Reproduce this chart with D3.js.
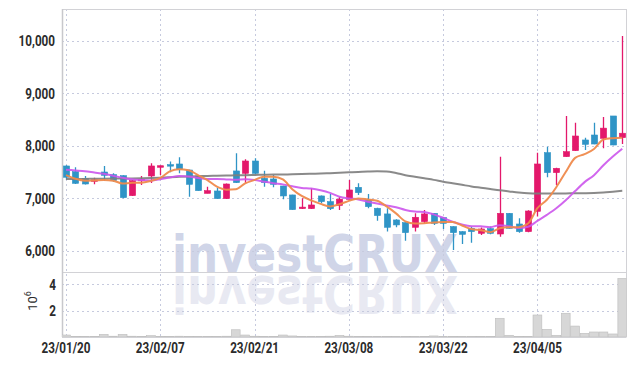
<!DOCTYPE html>
<html>
<head>
<meta charset="utf-8">
<script src="https://cdn.jsdelivr.net/npm/d3@7"></script>
<style>
html, body { margin: 0; padding: 0; background: #fff; }
svg { display: block; }
text { font-family: Roboto, "DejaVu Sans", sans-serif; }
</style>
</head>
<body>
<svg id="chart" width="635" height="366"></svg>
<script>
const dates = [
    '23/01/20', '23/01/25', '23/01/26', '23/01/27', '23/01/30', '23/01/31', '23/02/01', '23/02/02', '23/02/03', '23/02/06',
    '23/02/07', '23/02/08', '23/02/09', '23/02/10', '23/02/13', '23/02/14', '23/02/15', '23/02/16', '23/02/17', '23/02/20',
    '23/02/21', '23/02/22', '23/02/23', '23/02/24', '23/02/27', '23/02/28', '23/03/02', '23/03/03', '23/03/06', '23/03/07',
    '23/03/08', '23/03/09', '23/03/10', '23/03/13', '23/03/14', '23/03/15', '23/03/16', '23/03/17', '23/03/20', '23/03/21',
    '23/03/22', '23/03/23', '23/03/24', '23/03/27', '23/03/28', '23/03/29', '23/03/30', '23/03/31', '23/04/03', '23/04/04',
    '23/04/05', '23/04/06', '23/04/07', '23/04/10', '23/04/11', '23/04/12', '23/04/13', '23/04/14', '23/04/17', '23/04/18'
];
const opens = [
    7615, 7507, 7380, 7330, 7500, 7450, 7430, 7049, 7335, 7424,
    7590, 7640, 7653, 7538, 7424, 7093, 7138, 6992, 7520, 7475,
    7710, 7380, 7367, 7233, 7062, 6801, 6801, 7043, 6935, 6862,
    6979, 7208, 6967, 6808, 6700, 6585, 6534, 6445, 6553, 6712,
    6630, 6458, 6362, 6426, 6330, 6420, 6317, 6712, 6508, 6362,
    6750, 7869, 7488, 7793, 7907, 8111, 8206, 8143, 8569, 8155
];
const highs = [
    7630, 7590, 7424, 7392, 7615, 7475, 7440, 7345, 7424, 7666,
    7625, 7700, 7780, 7545, 7430, 7220, 7195, 7280, 7857, 7742,
    7761, 7526, 7443, 7240, 7065, 6998, 7189, 7050, 7081, 7030,
    7348, 7285, 7081, 6820, 6808, 6600, 6540, 6712, 6776, 6720,
    6640, 6465, 6370, 6460, 6440, 6460, 7793, 6720, 6616, 6770,
    7869, 7984, 7580, 8569, 8442, 8155, 8442, 8550, 8570, 10095
];
const lows = [
    7350, 7270, 7260, 7265, 7335, 7316, 7000, 7040, 7252, 7290,
    7443, 7494, 7475, 7030, 7140, 7093, 6990, 6985, 7290, 7297,
    7460, 7220, 7208, 6980, 6780, 6795, 6795, 6903, 6775, 6776,
    6967, 7062, 6808, 6572, 6363, 6445, 6190, 6363, 6521, 6490,
    6413, 6013, 6127, 6152, 6300, 6310, 6266, 6420, 6343, 6350,
    6650, 7399, 7252, 7790, 7900, 7920, 8030, 7955, 8010, 8035
];
const closes = [
    7400, 7284, 7271, 7350, 7437, 7335, 7011, 7335, 7360, 7615,
    7620, 7625, 7551, 7265, 7144, 7144, 6992, 7271, 7297, 7710,
    7475, 7297, 7265, 7043, 6782, 6830, 6871, 6935, 6801, 6982,
    7157, 7106, 6839, 6668, 6445, 6490, 6343, 6636, 6700, 6521,
    6521, 6343, 6311, 6362, 6413, 6330, 6712, 6425, 6362, 6756,
    7653, 7488, 7570, 7888, 8187, 8028, 8034, 8337, 8015, 8240
];
// volume in millions of shares
const volumes = [
    0.15, 0.05, 0.04, 0.04, 0.20, 0.06, 0.20, 0.06, 0.05, 0.10,
    0.05, 0.04, 0.06, 0.05, 0.05, 0.04, 0.04, 0.06, 0.55, 0.15,
    0.06, 0.04, 0.05, 0.15, 0.08, 0.04, 0.05, 0.04, 0.06, 0.12,
    0.06, 0.04, 0.04, 0.05, 0.05, 0.04, 0.05, 0.03, 0.04, 0.08,
    0.03, 0.04, 0.03, 0.03, 0.04, 0.03, 1.42, 0.13, 0.05, 0.05,
    1.67, 0.58, 0.13, 1.80, 0.83, 0.28, 0.38, 0.38, 0.23, 4.44
];
const ma5 = [
    7440, 7370, 7335, 7340, 7348, 7335, 7281, 7294, 7296, 7331,
    7388, 7511, 7554, 7535, 7441, 7346, 7219, 7163, 7170, 7283,
    7349, 7410, 7409, 7358, 7172, 7043, 6958, 6892, 6844, 6884,
    6949, 6996, 6976, 6950, 6843, 6710, 6557, 6516, 6523, 6538,
    6544, 6544, 6479, 6412, 6390, 6352, 6426, 6448, 6448, 6517,
    6810, 6970, 7210, 7500, 7770, 7840, 7940, 8120, 8145, 8155
];
const ma10 = [
    7545, 7530, 7515, 7490, 7465, 7430, 7390, 7360, 7345, 7340,
    7362, 7396, 7424, 7415, 7386, 7367, 7365, 7359, 7352, 7362,
    7347, 7315, 7286, 7264, 7228, 7196, 7184, 7151, 7101, 7028,
    6996, 6977, 6934, 6897, 6863, 6829, 6776, 6746, 6736, 6691,
    6627, 6551, 6498, 6467, 6464, 6448, 6485, 6464, 6430, 6454,
    6567, 6681, 6807, 6960, 7137, 7307, 7439, 7630, 7796, 7944
];
const maLong = [
    7365, 7366, 7368, 7370, 7372, 7374, 7376, 7378, 7380, 7385,
    7392, 7400, 7408, 7415, 7420, 7424, 7428, 7432, 7436, 7440,
    7444, 7447, 7450, 7453, 7456, 7460, 7465, 7470, 7478, 7486,
    7494, 7502, 7508, 7512, 7510, 7480, 7440, 7410, 7380, 7350,
    7315, 7285, 7255, 7225, 7200, 7175, 7150, 7130, 7110, 7095,
    7090, 7090, 7090, 7092, 7094, 7096, 7100, 7110, 7125, 7140
];
const priceTicks = [6000, 7000, 8000, 9000, 10000];
const volumeTicks = [2, 4];
const dateTicks = ['23/01/20', '23/02/07', '23/02/21', '23/03/08', '23/03/22', '23/04/05'];

const svg = d3.select('#chart');
const plotLeft = 62, plotRight = 626.5, plotTop = 9, split = 272, plotBottom = 337;

const x = d3.scaleBand().domain(dates).range([61.3, 627]).paddingInner(0).paddingOuter(0);
const cx = (d) => x(d) + x.bandwidth() / 2;
const y = d3.scaleLinear().domain([5592, 10610]).range([split, plotTop]);
const yv = d3.scaleLinear().domain([0, 4.93]).range([plotBottom, split]);

const defs = svg.append('defs');
defs.append('clipPath').attr('id', 'clip-price')
    .append('rect').attr('x', plotLeft).attr('y', plotTop).attr('width', plotRight - plotLeft).attr('height', split - plotTop);
defs.append('clipPath').attr('id', 'clip-vol')
    .append('rect').attr('x', plotLeft).attr('y', split).attr('width', plotRight - plotLeft).attr('height', plotBottom - split);

// watermark and its reflection
const wmFont = (sel) => sel
    .attr('textLength', 286).attr('lengthAdjust', 'spacingAndGlyphs')
    .style('font-family', '"DejaVu Sans", sans-serif')
    .style('font-weight', 'bold').style('font-size', '51px');
const wm = svg.append('g');
wm.append('text')
    .attr('x', 172).attr('y', 272)
    .call(wmFont)
    .attr('fill', '#d0d5e8')
    .text('investCRUX');
wm.append('text')
    .attr('x', 172).attr('y', -276)
    .attr('transform', 'scale(1,-1)')
    .call(wmFont)
    .attr('fill', '#e8e9f2')
    .text('investCRUX');

// grid
const grid = svg.append('g')
    .attr('stroke', '#c6cade').attr('stroke-width', 1).attr('stroke-dasharray', '2,3');
grid.selectAll('.hp').data(priceTicks).join('line')
    .attr('class', 'hp')
    .attr('x1', plotLeft).attr('x2', plotRight)
    .attr('y1', (d) => Math.round(y(d)) + 0.5).attr('y2', (d) => Math.round(y(d)) + 0.5);
grid.selectAll('.hv').data(volumeTicks).join('line')
    .attr('class', 'hv')
    .attr('x1', plotLeft).attr('x2', plotRight)
    .attr('y1', (d) => Math.round(yv(d)) + 0.5).attr('y2', (d) => Math.round(yv(d)) + 0.5);
grid.selectAll('.vx').data(dateTicks).join('line')
    .attr('class', 'vx')
    .attr('x1', (d) => Math.round(cx(d)) + 0.5).attr('x2', (d) => Math.round(cx(d)) + 0.5)
    .attr('y1', plotTop).attr('y2', plotBottom);

// frame
const frame = svg.append('g').attr('stroke', '#d2d2d6').attr('fill', 'none');
frame.append('line').attr('x1', plotLeft).attr('x2', plotRight).attr('y1', plotTop + 0.5).attr('y2', plotTop + 0.5);
frame.append('line').attr('x1', plotRight).attr('x2', plotRight).attr('y1', plotTop).attr('y2', plotBottom);
frame.append('line').attr('x1', plotLeft).attr('x2', plotRight).attr('y1', split + 0.5).attr('y2', split + 0.5);
frame.append('line').attr('x1', plotLeft).attr('x2', plotRight).attr('y1', plotBottom + 0.5).attr('y2', plotBottom + 0.5);
frame.append('line').attr('x1', plotLeft + 0.5).attr('x2', plotLeft + 0.5).attr('y1', plotTop).attr('y2', plotBottom)
    .attr('stroke', '#c8c8cc').attr('stroke-width', 1.5);

// volume bars
svg.append('g').attr('clip-path', 'url(#clip-vol)')
    .selectAll('rect').data(dates).join('rect')
    .attr('x', (d) => x(d) + 0.3)
    .attr('width', x.bandwidth() - 0.6)
    .attr('y', (d, i) => yv(volumes[i]))
    .attr('height', (d, i) => plotBottom - yv(volumes[i]))
    .attr('fill', '#d7d7d7').attr('stroke', '#bdbdbd').attr('stroke-width', 0.6);

// candles
const upColor = '#e3186b', downColor = '#2f94c6';
const candles = svg.append('g').attr('clip-path', 'url(#clip-price)');
const bodyW = 6.2;
const cg = candles.selectAll('g').data(dates).join('g')
    .attr('fill', (d, i) => closes[i] >= opens[i] ? upColor : downColor)
    .attr('stroke', (d, i) => closes[i] >= opens[i] ? upColor : downColor);
cg.append('line')
    .attr('x1', (d) => Math.round(cx(d)) + 0.5).attr('x2', (d) => Math.round(cx(d)) + 0.5)
    .attr('y1', (d, i) => y(highs[i])).attr('y2', (d, i) => y(lows[i]))
    .attr('stroke-width', 1.3);
cg.append('rect')
    .attr('x', (d) => Math.round(cx(d)) + 0.5 - bodyW / 2)
    .attr('width', bodyW)
    .attr('y', (d, i) => y(Math.max(opens[i], closes[i])))
    .attr('height', (d, i) => Math.max(1.5, Math.abs(y(opens[i]) - y(closes[i]))))
    .attr('stroke-width', 0.6);

// moving averages
const line = (vals) => d3.line()
    .x((d, i) => cx(dates[i]))
    .y((d) => y(d))
    .curve(d3.curveMonotoneX)(vals);
const maGroup = svg.append('g').attr('clip-path', 'url(#clip-price)').attr('fill', 'none');
maGroup.append('path').attr('d', line(maLong)).attr('stroke', '#7d7d7d').attr('stroke-width', 2).attr('opacity', 0.9);
maGroup.append('path').attr('d', line(ma10)).attr('stroke', '#cc55ec').attr('stroke-width', 2).attr('opacity', 0.9);
maGroup.append('path').attr('d', line(ma5)).attr('stroke', '#ef8a4c').attr('stroke-width', 2).attr('opacity', 0.95);

// axes (labels squeezed horizontally to mimic the condensed face)
const squeeze = 0.78;
const yAxis = svg.append('g')
    .attr('transform', `translate(${plotLeft},0)`)
    .call(d3.axisLeft(y).tickValues(priceTicks).tickSize(0).tickPadding(7).tickFormat(d3.format(',')));
const vAxis = svg.append('g')
    .attr('transform', `translate(${plotLeft},0)`)
    .call(d3.axisLeft(yv).tickValues(volumeTicks).tickSize(0).tickPadding(6).tickFormat(d3.format('d')));
const xAxis = svg.append('g')
    .attr('transform', `translate(0,${plotBottom})`)
    .call(d3.axisBottom(x).tickValues(dateTicks).tickSize(0).tickPadding(5));
[yAxis, vAxis].forEach((g) => {
    g.selectAll('text').attr('x', function () { return +d3.select(this).attr('x') / squeeze; });
});
[yAxis, vAxis, xAxis].forEach((g) => {
    g.select('.domain').remove();
    g.selectAll('text')
        .attr('transform', `scale(${squeeze},1)`)
        .style('font-family', 'Roboto, "DejaVu Sans", sans-serif')
        .style('font-size', '15px')
        .style('font-weight', '700')
        .attr('fill', '#2b2b2b');
});

svg.append('text')
    .attr('transform', 'translate(37,301) rotate(-90)')
    .attr('text-anchor', 'middle')
    .style('font-size', '13px')
    .attr('fill', '#2a2a2a')
    .text('10')
    .append('tspan')
    .attr('dy', -6)
    .style('font-size', '9px')
    .text('6');
</script>
</body>
</html>
